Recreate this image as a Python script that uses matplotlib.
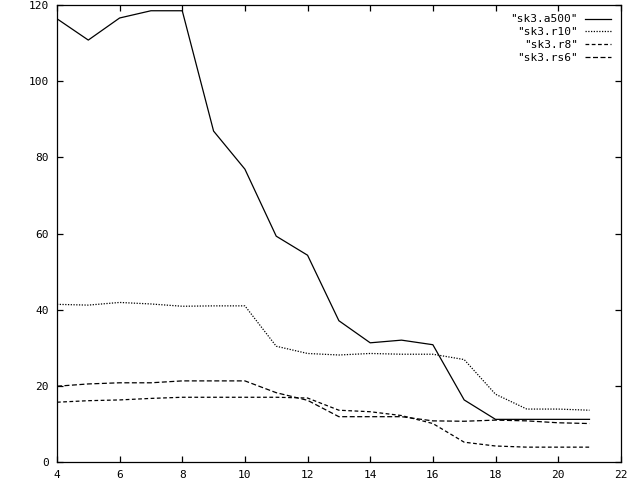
import matplotlib
matplotlib.use("Agg")
import matplotlib.pyplot as plt

# ── data ──────────────────────────────────────────────────────
x = [4, 5, 6, 7, 8, 9, 10, 11, 12, 13, 14, 15, 16, 17, 18, 19, 20, 21]

a500 = [116.4, 110.8, 116.6, 118.5, 118.5, 86.9, 76.9, 59.3, 54.3, 37.1,
        31.3, 32.0, 30.8, 16.3, 11.2, 11.2, 11.2, 11.2]
r10 = [41.4, 41.2, 41.9, 41.5, 40.9, 41.0, 41.0, 30.4, 28.5, 28.1,
       28.5, 28.3, 28.3, 26.9, 17.8, 13.9, 13.9, 13.6]
r8 = [15.7, 16.1, 16.3, 16.7, 17.0, 17.0, 17.0, 17.0, 16.8, 13.6,
      13.2, 12.2, 10.1, 5.2, 4.2, 3.9, 3.9, 3.9]
rs6 = [19.9, 20.5, 20.8, 20.8, 21.3, 21.3, 21.3, 18.2, 16.2, 11.9,
       11.9, 11.9, 10.8, 10.7, 11.0, 10.8, 10.3, 10.1]

labels = ['"sk3.a500"', '"sk3.r10"', '"sk3.r8"', '"sk3.rs6"']
xticks = [4, 6, 8, 10, 12, 14, 16, 18, 20, 22]
yticks = [0, 20, 40, 60, 80, 100, 120]

# ── plot ──────────────────────────────────────────────────────
plt.rcParams["font.family"] = ["DejaVu Sans Mono"]

fig = plt.figure(figsize=(6.4, 4.8), dpi=100)
ax = fig.add_axes([0.089, 0.0375, 0.881, 0.952])

lw = 0.9
ax.plot(x, a500, color="black", lw=lw, ls="-", label=labels[0])
ax.plot(x, r10, color="black", lw=lw, ls=(0, (1, 1.2)), label=labels[1])
ax.plot(x, r8, color="black", lw=lw, ls=(0, (3, 2)), label=labels[2])
ax.plot(x, rs6, color="black", lw=lw, ls=(0, (4, 2)), label=labels[3])

ax.set_xlim(4, 22)
ax.set_ylim(0, 120)
ax.set_xticks(xticks)
ax.set_yticks(yticks)
ax.tick_params(direction="in", length=4.5, width=0.9, top=True, right=True,
               labelsize=8, pad=6)
for s in ax.spines.values():
    s.set_linewidth(0.9)

ax.legend(loc="upper right", frameon=False, markerfirst=False, fontsize=8,
          handlelength=2.4, labelspacing=0.25, handletextpad=0.6,
          borderaxespad=0.45)

fig.savefig("out.png", dpi=100)
